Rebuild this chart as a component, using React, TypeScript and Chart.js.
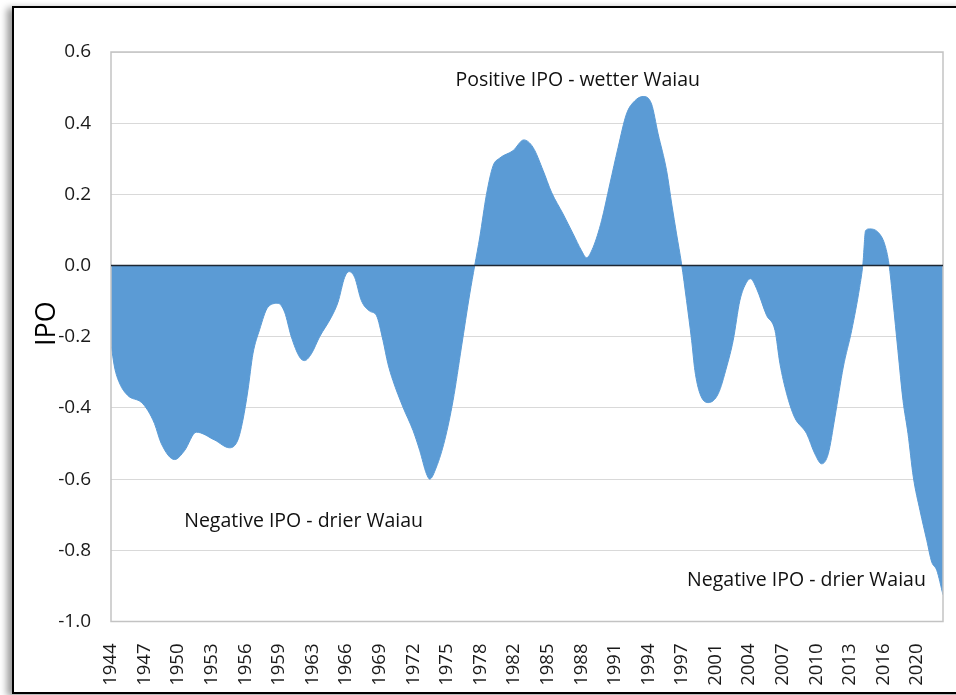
import { useEffect, useRef } from 'react';
import { Chart, registerables } from 'chart.js';

Chart.register(...registerables);

// Decimal years of the traced points
const years = [
  1944.0, 1944.33, 1944.8, 1945.58, 1946.85, 1947.47, 1948.1, 1948.74, 1950.0, 1950.93,
  1952.04, 1953.76, 1955.18, 1955.96, 1956.43, 1956.91, 1957.38, 1958.01, 1958.79, 1959.74,
  1960.37, 1961.0, 1961.78, 1962.25, 1962.89, 1963.67, 1964.77, 1965.4, 1966.03, 1966.43,
  1966.97, 1967.6, 1968.39, 1969.02, 1969.64, 1970.11, 1970.58, 1971.53, 1972.47, 1973.1,
  1973.74, 1974.05, 1974.68, 1975.46, 1976.25, 1977.04, 1977.82, 1978.29, 1978.77, 1979.4,
  1980.02, 1980.65, 1981.91, 1982.92, 1983.79, 1984.74, 1985.53, 1986.62, 1987.57, 1988.36,
  1988.83, 1989.45, 1990.25, 1991.03, 1991.81, 1992.6, 1993.39, 1994.17, 1994.96, 1995.58,
  1996.38, 1996.88, 1997.32, 1997.79, 1998.26, 1998.74, 1999.05, 1999.53, 2000.3, 2001.25,
  2002.04, 2002.66, 2003.29, 2003.92, 2004.3, 2004.87, 2005.81, 2006.6, 2007.07, 2007.7,
  2008.44, 2009.58, 2010.36, 2011.0, 2011.62, 2012.25, 2013.04, 2013.83, 2014.58, 2014.89,
  2015.14, 2015.52, 2016.3, 2016.93, 2017.34, 2017.72, 2018.19, 2018.67, 2019.14, 2019.64,
  2020.27, 2020.91, 2021.38, 2021.85, 2022.44,
];

// IPO values
const ipo = [
  -0.22, -0.285, -0.33, -0.365, -0.384, -0.407, -0.444, -0.5, -0.545, -0.52,
  -0.468, -0.49, -0.512, -0.49, -0.435, -0.35, -0.248, -0.18, -0.117, -0.106,
  -0.131, -0.2, -0.257, -0.267, -0.248, -0.2, -0.145, -0.103, -0.033, -0.017,
  -0.033, -0.098, -0.128, -0.14, -0.21, -0.276, -0.323, -0.398, -0.463, -0.519,
  -0.585, -0.6, -0.566, -0.491, -0.379, -0.229, -0.08, 0.0, 0.08, 0.2,
  0.28, 0.302, 0.323, 0.353, 0.332, 0.267, 0.206, 0.145, 0.089, 0.042,
  0.022, 0.051, 0.126, 0.229, 0.332, 0.426, 0.463, 0.475, 0.454, 0.37,
  0.267, 0.17, 0.089, 0.005, -0.098, -0.21, -0.295, -0.36, -0.385, -0.36,
  -0.285, -0.21, -0.098, -0.047, -0.037, -0.065, -0.14, -0.182, -0.276, -0.36,
  -0.426, -0.472, -0.529, -0.557, -0.529, -0.426, -0.285, -0.182, -0.061, 0.005,
  0.098, 0.103, 0.094, 0.061, 0.005, -0.098, -0.239, -0.379, -0.472, -0.594,
  -0.688, -0.772, -0.833, -0.856, -0.925,
];

// Category labels shown every 38 months starting Jan 1944
const xTickLabels = [
  '1944', '1947', '1950', '1953', '1956', '1959', '1963', '1966', '1969', '1972',
  '1975', '1978', '1982', '1985', '1988', '1991', '1994', '1997', '2001', '2004',
  '2007', '2010', '2013', '2016', '2020',
];
const monthsPerLabel = 38;

const annotations = [
  { text: 'Positive IPO - wetter Waiau', x: 1988.0, y: 0.52 },
  { text: 'Negative IPO - drier Waiau', x: 1962.16, y: -0.72 },
  { text: 'Negative IPO - drier Waiau', x: 2009.57, y: -0.885 },
];

const FONT = '"Open Sans", "DejaVu Sans", sans-serif';

const overlay = {
  id: 'overlay',
  afterDatasetsDraw(chart: any) {
    const { ctx, chartArea, scales } = chart;
    const x = scales.x;
    const y = scales.y;
    ctx.save();
    // plot area border
    ctx.strokeStyle = '#c3c3c3';
    ctx.lineWidth = 1.5;
    ctx.strokeRect(chartArea.left, chartArea.top, chartArea.right - chartArea.left, chartArea.bottom - chartArea.top);
    // zero line
    const y0 = y.getPixelForValue(0);
    ctx.strokeStyle = '#1d2733';
    ctx.lineWidth = 1.6;
    ctx.beginPath();
    ctx.moveTo(chartArea.left, y0);
    ctx.lineTo(chartArea.right, y0);
    ctx.stroke();
    // annotations
    ctx.fillStyle = '#111';
    ctx.font = `19.5px ${FONT}`;
    ctx.textAlign = 'center';
    ctx.textBaseline = 'middle';
    for (const a of annotations) {
      ctx.fillText(a.text, x.getPixelForValue(a.x), y.getPixelForValue(a.y));
    }
    // y axis title
    ctx.translate(chartArea.left - 64, y.getPixelForValue(-0.163));
    ctx.rotate(-Math.PI / 2);
    ctx.font = `27px ${FONT}`;
    ctx.fillStyle = '#000';
    ctx.fillText('IPO', 0, 0);
    ctx.restore();
  },
};

export default function App() {
  const ref = useRef<HTMLCanvasElement | null>(null);

  useEffect(() => {
    if (!ref.current) return;
    const chart = new Chart(ref.current, {
      type: 'line',
      data: {
        datasets: [
          {
            data: years.map((yr, i) => ({ x: yr, y: ipo[i] })),
            borderColor: '#5b9bd5',
            backgroundColor: '#5b9bd5',
            borderWidth: 1,
            fill: 'origin',
            pointRadius: 0,
            cubicInterpolationMode: 'monotone',
          },
        ],
      },
      options: {
        animation: false,
        responsive: false,
        layout: { padding: { top: 52, right: 13, left: 0, bottom: 0 } },
        plugins: { legend: { display: false }, tooltip: { enabled: false } },
        scales: {
          x: {
            type: 'linear',
            min: years[0],
            max: years[years.length - 1],
            grid: { display: false },
            border: { display: false },
            afterBuildTicks: (scale: any) => {
              scale.ticks = xTickLabels.map((_, k) => ({ value: 1944 + (k * monthsPerLabel) / 12 }));
            },
            afterFit: (scale: any) => {
              scale.height = 73.5;
            },
            ticks: {
              autoSkip: false,
              maxRotation: 90,
              minRotation: 90,
              padding: 14,
              color: '#1a1a1a',
              font: { family: FONT, size: 18.5 },
              callback: (_v: any, i: number) => xTickLabels[i],
            },
          },
          y: {
            min: -1.0,
            max: 0.6,
            grid: { color: '#d9d9d9', lineWidth: 1, drawTicks: false },
            border: { display: false },
            afterFit: (scale: any) => {
              scale.width = 111;
            },
            ticks: {
              stepSize: 0.2,
              padding: 20,
              color: '#1a1a1a',
              font: { family: FONT, size: 19 },
              callback: (v: any) => (Math.abs(v) < 1e-9 ? '0.0' : Number(v).toFixed(1)),
            },
          },
        },
      },
      plugins: [overlay],
    } as any);
    return () => chart.destroy();
  }, []);

  return (
    <div style={{ position: 'absolute', left: 0, top: 0, width: 956, height: 695, overflow: 'hidden', background: '#fff' }}>
      <div
        style={{
          position: 'absolute',
          left: 12,
          top: 6,
          width: 980,
          height: 684,
          border: '2px solid #000',
          boxShadow: '-5px 2px 7px rgba(0,0,0,0.4)',
          background: '#fff',
        }}
      />
      <canvas ref={ref} width={956} height={695} style={{ position: 'absolute', left: 0, top: 0 }} />
    </div>
  );
}
